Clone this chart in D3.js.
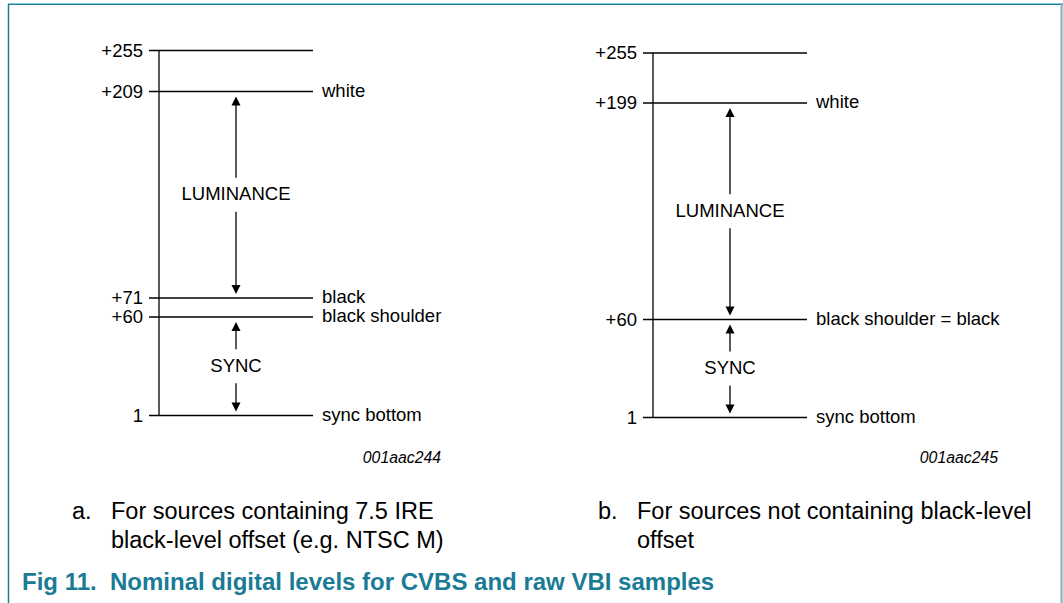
<!DOCTYPE html>
<html>
<head>
<meta charset="utf-8">
<script src="https://cdn.jsdelivr.net/npm/d3@7"></script>
<style>
  body { margin: 0; background: #fff; }
  text { font-family: "Liberation Sans", Arial, sans-serif; fill: #000; }
</style>
</head>
<body>
<svg id="fig" width="1063" height="603"></svg>
<script>
// panel a: sources with 7.5 IRE black-level offset
var levelsA = [255, 209, 71, 60, 1];
var tickLabelsA = ["+255", "+209", "+71", "+60", "1"];
var namesA = ["", "white", "black", "black shoulder", "sync bottom"];
var spansA = [
    { name: "LUMINANCE", from: 71, to: 209 },
    { name: "SYNC", from: 1, to: 60 }
];

// panel b: sources without black-level offset
var levelsB = [255, 199, 60, 1];
var tickLabelsB = ["+255", "+199", "+60", "1"];
var namesB = ["", "white", "black shoulder = black", "sync bottom"];
var spansB = [
    { name: "LUMINANCE", from: 60, to: 199 },
    { name: "SYNC", from: 1, to: 60 }
];

var codeA = "001aac244", codeB = "001aac245";
var captionA = ["For sources containing 7.5 IRE", "black-level offset (e.g. NTSC M)"];
var captionB = ["For sources not containing black-level", "offset"];
var figTitle = ["Fig 11.", "Nominal digital levels for CVBS and raw VBI samples"];

var teal = "#17809a";
var svg = d3.select("#fig");

// frame
svg.append("line").attr("x1", 8).attr("x2", 1063).attr("y1", 3.5).attr("y2", 3.5)
    .attr("stroke", "#8cc3d0").attr("stroke-width", 1);
svg.append("line").attr("x1", 8).attr("x2", 1063).attr("y1", 4.5).attr("y2", 4.5)
    .attr("stroke", teal).attr("stroke-width", 1.2);
svg.append("line").attr("x1", 8.5).attr("x2", 8.5).attr("y1", 4).attr("y2", 603)
    .attr("stroke", teal).attr("stroke-width", 1.5);
svg.append("line").attr("x1", 1061.5).attr("x2", 1061.5).attr("y1", 4).attr("y2", 603)
    .attr("stroke", "#72b4c4").attr("stroke-width", 2);

// schematic (non-proportional) level scales, as in the data sheet drawing
var yA = d3.scaleLinear().domain([1, 60, 71, 209, 255]).range([415.5, 317, 298, 91.5, 50.5]);
var yB = d3.scaleLinear().domain([1, 60, 199, 255]).range([417.5, 319.5, 103, 53]);

function drawPanel(levels, ticks, names, spans, y, axisX, lineEnd, arrowX, code, codeX) {
    var g = svg.append("g");

    g.append("line")
        .attr("x1", axisX).attr("x2", axisX)
        .attr("y1", y(d3.max(levels))).attr("y2", y(d3.min(levels)))
        .attr("stroke", "#000").attr("stroke-width", 1.3);

    g.selectAll(".lvl").data(levels).enter().append("line")
        .attr("x1", axisX - 10).attr("x2", lineEnd)
        .attr("y1", function(d) { return y(d); })
        .attr("y2", function(d) { return y(d); })
        .attr("stroke", "#000").attr("stroke-width", 1.3);

    g.selectAll(".tk").data(levels).enter().append("text")
        .attr("x", axisX - 16)
        .attr("y", function(d) { return y(d); })
        .attr("dy", "0.35em")
        .attr("text-anchor", "end")
        .style("font-size", "18.5px")
        .text(function(d, i) { return ticks[i]; });

    g.selectAll(".nm").data(levels).enter().append("text")
        .attr("x", lineEnd + 9)
        .attr("y", function(d) { return y(d) - 1; })
        .attr("dy", "0.35em")
        .style("font-size", "18.5px")
        .text(function(d, i) { return names[i]; });

    spans.forEach(function(s) {
        var top = y(s.to), bot = y(s.from), mid = (top + bot) / 2;
        var tipTop = top + 5, tipBot = bot - 4;
        g.append("line").attr("x1", arrowX).attr("x2", arrowX)
            .attr("y1", tipTop + 8).attr("y2", mid - 17)
            .attr("stroke", "#000").attr("stroke-width", 1.3);
        g.append("line").attr("x1", arrowX).attr("x2", arrowX)
            .attr("y1", mid + 17).attr("y2", tipBot - 8)
            .attr("stroke", "#000").attr("stroke-width", 1.3);
        g.append("path")
            .attr("d", "M" + arrowX + "," + tipTop + "L" + (arrowX - 4.5) + "," + (tipTop + 9) +
                "L" + (arrowX + 4.5) + "," + (tipTop + 9) + "Z")
            .attr("fill", "#000");
        g.append("path")
            .attr("d", "M" + arrowX + "," + tipBot + "L" + (arrowX - 4.5) + "," + (tipBot - 9) +
                "L" + (arrowX + 4.5) + "," + (tipBot - 9) + "Z")
            .attr("fill", "#000");
        g.append("text")
            .attr("x", arrowX).attr("y", mid - 1)
            .attr("dy", "0.35em")
            .attr("text-anchor", "middle")
            .style("font-size", "18.5px")
            .text(s.name);
    });

    g.append("text")
        .attr("x", codeX).attr("y", 463)
        .attr("text-anchor", "end")
        .style("font-size", "15.8px")
        .style("font-style", "italic")
        .text(code);
}

drawPanel(levelsA, tickLabelsA, namesA, spansA, yA, 159, 313, 236, codeA, 441);
drawPanel(levelsB, tickLabelsB, namesB, spansB, yB, 653, 807, 730, codeB, 998);

function caption(x, letter, lines) {
    svg.append("text").attr("x", x).attr("y", 519)
        .style("font-size", "23.5px").text(letter);
    svg.selectAll(null).data(lines).enter().append("text")
        .attr("x", x + 39)
        .attr("y", function(d, i) { return 519 + i * 29; })
        .style("font-size", "23.5px")
        .text(function(d) { return d; });
}
caption(72, "a.", captionA);
caption(598, "b.", captionB);

var titleX = [22, 110];
svg.selectAll(".title").data(figTitle).enter().append("text")
    .attr("x", function(d, i) { return titleX[i]; })
    .attr("y", 590)
    .style("font-size", "24px")
    .style("font-weight", "bold")
    .style("fill", "#1a7b95")
    .text(function(d) { return d; });
</script>
</body>
</html>
